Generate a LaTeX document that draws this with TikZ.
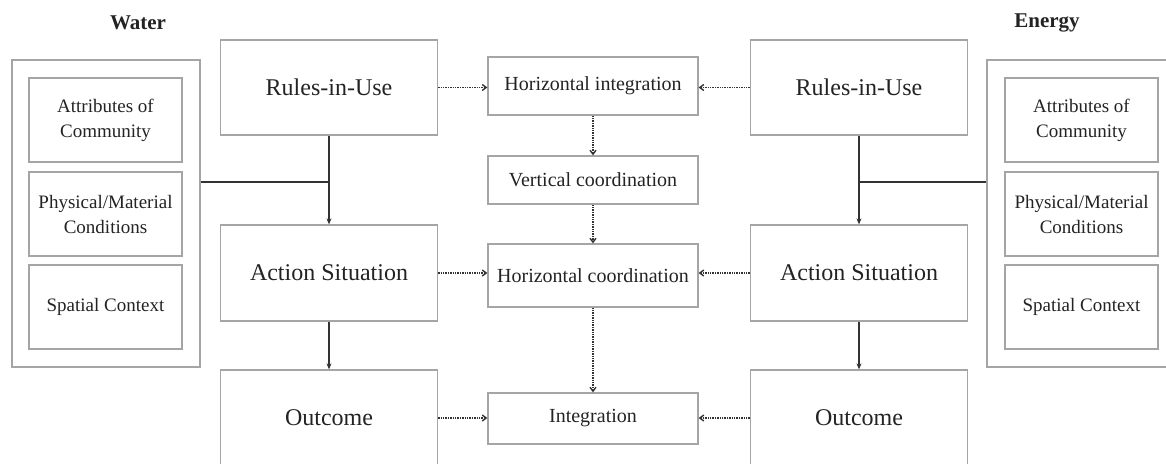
\documentclass[tikz,border=0pt]{standalone}
\usepackage{fontspec}
\setmainfont{Liberation Serif}
\usepackage{tikz}
\usetikzlibrary{arrows.meta, positioning, calc}
\definecolor{boxline}{RGB}{165, 165, 165}
\definecolor{linkline}{RGB}{50, 50, 50}
\definecolor{txt}{RGB}{35, 35, 35}

\tikzset{
  bigbox/.style={draw=boxline, line width=1.3pt, minimum width=217pt, inner sep=0pt,
        text=txt, font=\fontsize{24}{28}\selectfont},
  midbox/.style={draw=boxline, line width=1.3pt, minimum width=210pt, inner sep=0pt,
        text=txt, font=\fontsize{20}{24}\selectfont},
  ctxbox/.style={draw=boxline, line width=1.3pt, minimum width=153pt, minimum height=84pt,
        inner sep=0pt, align=center, text=txt, font=\fontsize{19}{25}\selectfont},
  outerbox/.style={draw=boxline, line width=1.3pt, minimum width=188pt, minimum height=307pt,
        inner sep=0pt},
  sector/.style={text=txt, font=\bfseries\fontsize{21}{24}\selectfont},
  solidarrow/.style={-{Stealth[length=6pt, width=5pt]}, linkline, line width=2pt},
  solidlink/.style={linkline, line width=1.8pt},
  dotarrow/.style={-{Straight Barb[length=4pt, width=6pt]}, linkline, line width=1.4pt,
        dash pattern=on 1.4pt off 1pt}
}

\begin{document}
\begin{tikzpicture}[x=1pt, y=-1pt]
  \useasboundingbox (0,0) rectangle (1166,463);
  \clip (0,0) rectangle (1166,463);

  % water side
  \node[sector] (water) at (138,23) {Water};
  \node[outerbox] (ctxW) at (106,213.5) {};
  \node[ctxbox] (attrW) at (105.5,120) {Attributes of\\Community};
  \node[ctxbox] (physW) at (105.5,214) {Physical/Material\\Conditions};
  \node[ctxbox] (spatW) at (105.5,307) {Spatial Context};
  \node[bigbox, minimum height=95pt] (ruleW) at (329,87.5) {Rules-in-Use};
  \node[bigbox, minimum height=96pt] (actW) at (329,273) {Action Situation};
  \node[bigbox, minimum height=96pt] (outW) at (329,418) {Outcome};

  % energy side
  \node[sector] (energy) at (1047,23) {Energy};
  \node[outerbox, minimum width=189pt] (ctxE) at (1081.5,213.5) {};
  \node[ctxbox] (attrE) at (1081.5,120) {Attributes of\\Community};
  \node[ctxbox] (physE) at (1081.5,214) {Physical/Material\\Conditions};
  \node[ctxbox] (spatE) at (1081.5,307) {Spatial Context};
  \node[bigbox, minimum height=95pt] (ruleE) at (859,87.5) {Rules-in-Use};
  \node[bigbox, minimum height=96pt] (actE) at (859,273) {Action Situation};
  \node[bigbox, minimum height=96pt] (outE) at (859,418) {Outcome};

  % middle column
  \node[midbox, minimum height=58pt] (hint) at (593,86) {Horizontal integration};
  \node[midbox, minimum height=48pt] (vcoord) at (593,180) {Vertical coordination};
  \node[midbox, minimum height=63pt] (hcoord) at (593,275.5) {Horizontal coordination};
  \node[midbox, minimum height=51pt] (integ) at (593,418.5) {Integration};

  % solid links
  \coordinate (jW) at ($(ruleW.south)!0.52!(actW.north)$);
  \coordinate (jE) at ($(ruleE.south)!0.52!(actE.north)$);
  \draw[solidarrow] (ruleW) -- (actW);
  \draw[solidarrow] (actW) -- (outW);
  \draw[solidlink] (ctxW.east |- jW) -- (jW);
  \draw[solidarrow] (ruleE) -- (actE);
  \draw[solidarrow] (actE) -- (outE);
  \draw[solidlink] (ctxE.west |- jE) -- (jE);

  % dotted links
  \draw[dotarrow] (ruleW.east) -- (ruleW.east -| hint.west);
  \draw[dotarrow] (ruleE.west) -- (ruleE.west -| hint.east);
  \draw[dotarrow] (actW.east) -- (actW.east -| hcoord.west);
  \draw[dotarrow] (actE.west) -- (actE.west -| hcoord.east);
  \draw[dotarrow] (outW.east) -- (outW.east -| integ.west);
  \draw[dotarrow] (outE.west) -- (outE.west -| integ.east);
  \draw[dotarrow] (hint) -- (vcoord);
  \draw[dotarrow] (vcoord) -- (hcoord);
  \draw[dotarrow] (hcoord) -- (integ);
\end{tikzpicture}
\end{document}
